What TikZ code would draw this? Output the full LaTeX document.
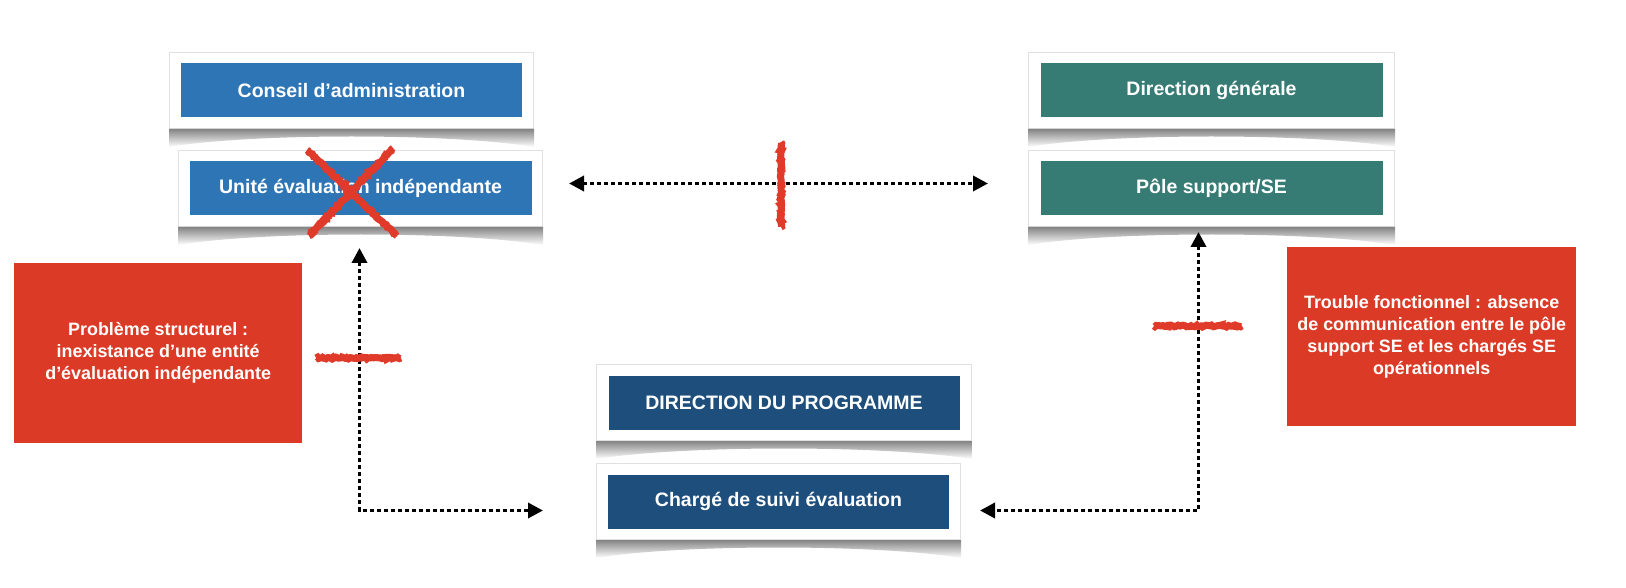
\documentclass[tikz,border=0pt]{standalone}
\usepackage{fontspec}
\setmainfont{Liberation Sans}
\usetikzlibrary{arrows.meta,decorations.pathmorphing,calc}
\definecolor{cblue}{HTML}{2E75B6}
\definecolor{cteal}{HTML}{367B74}
\definecolor{cnavy}{HTML}{1E4E7C}
\definecolor{cred}{HTML}{DB3B26}
\definecolor{cmark}{HTML}{E03A2A}
\newcommand\cardshadow[1]{%
  \path[top color=black!48, bottom color=white]
    ($(#1.south west)+(0,0)$) -- ($(#1.south east)+(0,0)$) -- ($(#1.south east)+(0,18)$)
    .. controls ($(#1.south)+(100,4)$) and ($(#1.south)+(-100,4)$) .. ($(#1.south west)+(0,18)$) -- cycle;}
\tikzset{mytri/.tip={Triangle[length=15pt,width=15pt]}}
\begin{document}
\begin{tikzpicture}[x=1pt,y=-1pt,
  card/.style={draw=black!12, line width=1pt, fill=white, minimum width=#1, minimum height=76pt, inner sep=0pt, anchor=north west},
  bluebox/.style={minimum width=#1, minimum height=54pt, inner sep=0pt, text=white,
    font=\bfseries\fontsize{19.5}{23}\selectfont},
  redbox/.style={fill=cred, minimum width=288pt, minimum height=180pt, inner sep=0pt, anchor=north west,
    text=white, align=center, font=\bfseries\fontsize{17.9}{22}\selectfont},
  conn/.style={line width=3.5pt, dash pattern=on 3.5pt off 3.5pt, black},
  redmark/.style={cmark, line width=7pt, decorate, decoration={random steps, segment length=1.5pt, amplitude=0.9pt}},
]
\useasboundingbox (0,0) rectangle (1626,588);
\fill[white] (0,0) rectangle (1626,588);
\pgfmathsetseed{7}
% left column
\node[card=364pt] (c1) at (169,52) {};
\cardshadow{c1}
\node[bluebox=341pt, fill=cblue] (b1) at (c1.center) {Conseil d’administration};
\node[card=364pt] (c2) at (178,150) {};
\cardshadow{c2}
\node[bluebox=342pt, fill=cblue] (b2) at (c2.center) {Unité évaluation indépendante};
% right column
\node[card=366pt] (c3) at (1028,52) {};
\cardshadow{c3}
\node[bluebox=342pt, fill=cteal] (b3) at (c3.center) {Direction générale};
\node[card=366pt] (c4) at (1028,150) {};
\cardshadow{c4}
\node[bluebox=342pt, fill=cteal] (b4) at (c4.center) {Pôle support/SE};
% bottom column
\node[card=375pt] (c5) at (596,364) {};
\cardshadow{c5}
\node[bluebox=351pt, fill=cnavy] (b5) at (c5.center) {DIRECTION DU PROGRAMME};
\node[card=364pt] (c6) at (596,463) {};
\cardshadow{c6}
\node[bluebox=341pt, fill=cnavy] (b6) at (c6.center) {Chargé de suivi évaluation};
% red boxes
\node[redbox] (r1) at (14,263) {Problème structurel :\\inexistance d’une entité\\d’évaluation indépendante};
\node[redbox, minimum width=289pt, minimum height=179pt] (r2) at (1287,247) {Trouble fonctionnel : absence\\de communication entre le pôle\\support SE et les chargés SE\\opérationnels};
% connectors
\draw[conn, mytri-mytri] ($(c2.east)+(26,-5)$) -- ($(c4.west)+(-40,-5)$);
\draw[conn, mytri-mytri] ($(c2.south)+(-1,21)$) |- ($(c6.west)+(-53,9)$);
\draw[conn, mytri-mytri] ($(c4.south)+(-13,5)$) |- ($(c6.east)+(19,9)$);
% red marks
\draw[redmark] (307,150) -- (397,236);
\draw[redmark] (393,148) -- (309,236);
\draw[redmark] (781,142) -- (781,227);
\draw[redmark] (316,358) -- (401,358);
\draw[redmark] (1154,326) -- (1242,326);
\end{tikzpicture}
\end{document}
